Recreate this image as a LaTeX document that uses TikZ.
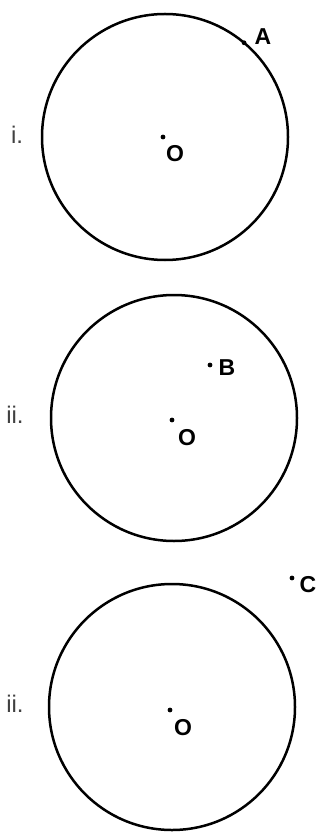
\documentclass[tikz,border=0pt]{standalone}
\usepackage{fontspec}
\setmainfont{Liberation Sans}
\begin{document}
\begin{tikzpicture}[x=1pt, y=-1pt,
    pt/.style={font=\fontsize{23}{23}\selectfont\bfseries},
    num/.style={font=\fontsize{24}{24}\selectfont, text=black!75}]
    \useasboundingbox (0,0) rectangle (324,834);

    % i.
    \coordinate (c1) at (165,137);
    \draw[line width=2.5pt] (c1) circle (123pt);
    \fill (163,137) coordinate (d1) circle (2.4pt);
    \node[pt] (o1) at (175,154) {O};
    \fill (c1) ++(50:123pt) coordinate (a) circle (2.4pt);
    \node[pt] (la) at (263,37) {A};
    \node[num] (n1) at (17,135) {i.};

    % ii.
    \coordinate (c2) at (174,418);
    \draw[line width=2.5pt] (c2) circle (123pt);
    \fill (172,420) coordinate (d2) circle (2.4pt);
    \node[pt] (o2) at (187,438) {O};
    \fill (210,365) coordinate (b) circle (2.4pt);
    \node[pt] (lb) at (227,368) {B};
    \node[num] (n2) at (15,415) {ii.};

    % iii.
    \coordinate (c3) at (172,707);
    \draw[line width=2.5pt] (c3) circle (123pt);
    \fill (170,710) coordinate (d3) circle (2.4pt);
    \node[pt] (o3) at (183,728) {O};
    \fill (292,578) coordinate (c) circle (2.4pt);
    \node[pt] (lc) at (308,585) {C};
    \node[num] (n3) at (15,704) {ii.};
\end{tikzpicture}
\end{document}
